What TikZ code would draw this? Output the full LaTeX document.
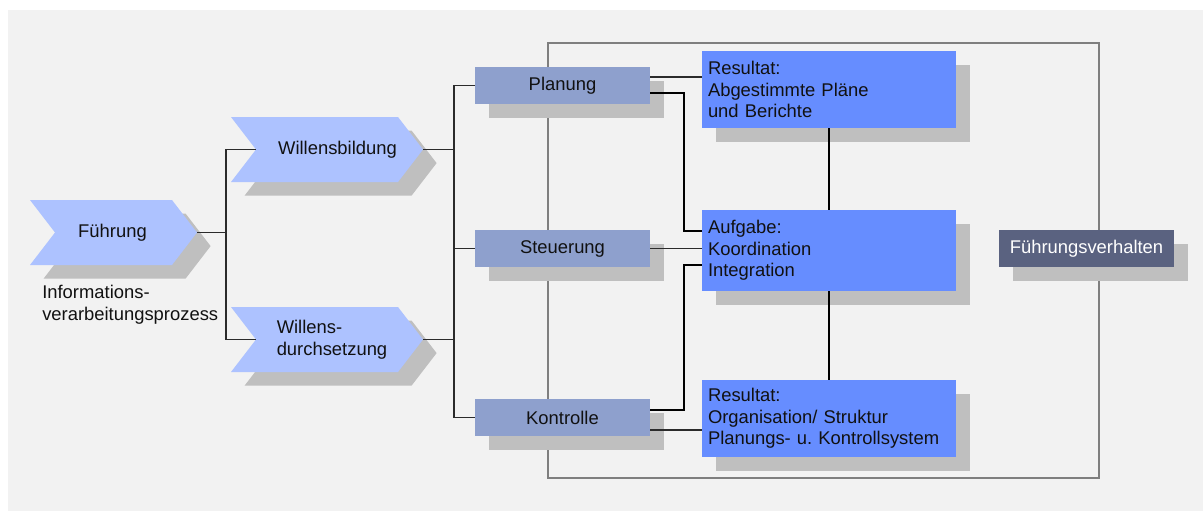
\documentclass[tikz,border=0pt]{standalone}
\usepackage{fontspec}
\setmainfont{Liberation Sans}
\usetikzlibrary{calc,shadows}
\definecolor{bg}{HTML}{F2F2F2}
\definecolor{chevfill}{HTML}{ADC2FF}
\definecolor{shadowc}{HTML}{BFBFBF}
\definecolor{stepfill}{HTML}{8EA0CD}
\definecolor{resfill}{HTML}{668DFF}
\definecolor{darkfill}{HTML}{5A6280}
\definecolor{framec}{HTML}{7F7F7F}
\definecolor{linec}{HTML}{2B2B2B}
\definecolor{textc}{HTML}{111111}
\frenchspacing

\begin{document}
\begin{tikzpicture}[x=0.75pt,y=-0.75pt,
  every node/.style={font=\fontsize{13.8pt}{16.2pt}\selectfont, text=textc},
  boxshadow/.style={drop shadow={shadow xshift=10.2pt, shadow yshift=-10.2pt, opacity=1, fill=shadowc}},
  chevron/.style={fill=chevfill, boxshadow},
  chevtext/.style={inner sep=0pt, align=left},
  stepbox/.style={fill=stepfill, minimum width=131.25pt, minimum height=27.75pt, inner sep=0pt, boxshadow},
  resbox/.style={fill=resfill, text width=181.5pt, inner xsep=4.5pt, inner ysep=0pt, align=left, boxshadow},
  darkbox/.style={fill=darkfill, text=white, minimum width=131.25pt, minimum height=27.75pt, inner sep=0pt, boxshadow},
  conn/.style={draw=linec, line width=1pt},
  thinconn/.style={draw=black, line width=0.8pt}]

% canvas
\useasboundingbox (0,0) rectangle (1203,511);
\fill[bg] (8,10) rectangle (1203,511);

% frame around the coordination area
\draw[framec, line width=2.2pt] (548,43) rectangle (1099,478);

% chevrons of the process
\fill[chevron] (30,200) -- (172,200) -- (197,232.5) -- (172,265) -- (30,265) -- (55,232.5) -- cycle;
\coordinate (fue-out) at (197,232.5);
\node[chevtext] (fuehrung) at (112.5,232.5) {Führung};

\fill[chevron] (231,117) -- (398,117) -- (423,149.5) -- (398,182) -- (231,182) -- (256,149.5) -- cycle;
\coordinate (wb-in) at (256,149.5);
\coordinate (wb-out) at (423,149.5);
\node[chevtext] (wbildung) at (337.5,149.5) {Willensbildung};

\fill[chevron] (231,307) -- (398,307) -- (423,339.5) -- (398,372) -- (231,372) -- (256,339.5) -- cycle;
\coordinate (wd-in) at (256,339.5);
\coordinate (wd-out) at (423,339.5);
\node[chevtext] (wdurch) at (332,339.5) {Willens-\\durchsetzung};

\node[inner sep=0pt, anchor=west, align=left] (info) at (42,304.5) {Informations-\\verarbeitungsprozess};

% functions
\node[stepbox] (planung) at (562.5,85.5) {Planung};
\node[stepbox] (steuerung) at (562.5,248.5) {Steuerung};
\node[stepbox] (kontrolle) at (562.5,417.5) {Kontrolle};

% results and task
\node[resbox, minimum height=57.75pt] (res1) at (829,89.5) {Resultat:\\Abgestimmte Pläne\\und Berichte};
\node[resbox, minimum height=60.75pt] (aufgabe) at (829,250.5) {Aufgabe:\\Koordination\\Integration};
\node[resbox, minimum height=57.75pt] (res2) at (829,418.5) {Resultat:\\Organisation/ Struktur\\Planungs- u. Kontrollsystem};

\node[darkbox] (fverh) at (1086.5,248.5) {Führungsverhalten};

% tree on the left
\draw[conn] (fue-out) -- ++(29,0) |- (wb-in);
\draw[conn] (fue-out) -- ++(29,0) |- (wd-in);
\draw[conn] (wb-out) -- ++(31,0) |- (planung.west);
\draw[conn] (wb-out) -- ++(31,0) |- (steuerung.west);
\draw[conn] (wd-out) -- ++(31,0) |- (steuerung.west);
\draw[conn] (wd-out) -- ++(31,0) |- (kontrolle.west);

% links between functions and results
\draw[conn] (planung.east |- 0,77) -- (res1.west |- 0,77);
\draw[thinconn] (planung.east |- 0,93) -- (684,93) -- (684,231) -- (aufgabe.west |- 0,231);
\draw[conn] (steuerung.east) -- (aufgabe.west |- steuerung.east);
\draw[thinconn] (aufgabe.west |- 0,265) -- (684,265) -- (684,410) -- (kontrolle.east |- 0,410);
\draw[conn] (kontrolle.east |- 0,430) -- (res2.west |- 0,430);
\draw[thinconn] (res1.south) -- (aufgabe.north);
\draw[thinconn] (aufgabe.south) -- (res2.north);
\end{tikzpicture}
\end{document}
